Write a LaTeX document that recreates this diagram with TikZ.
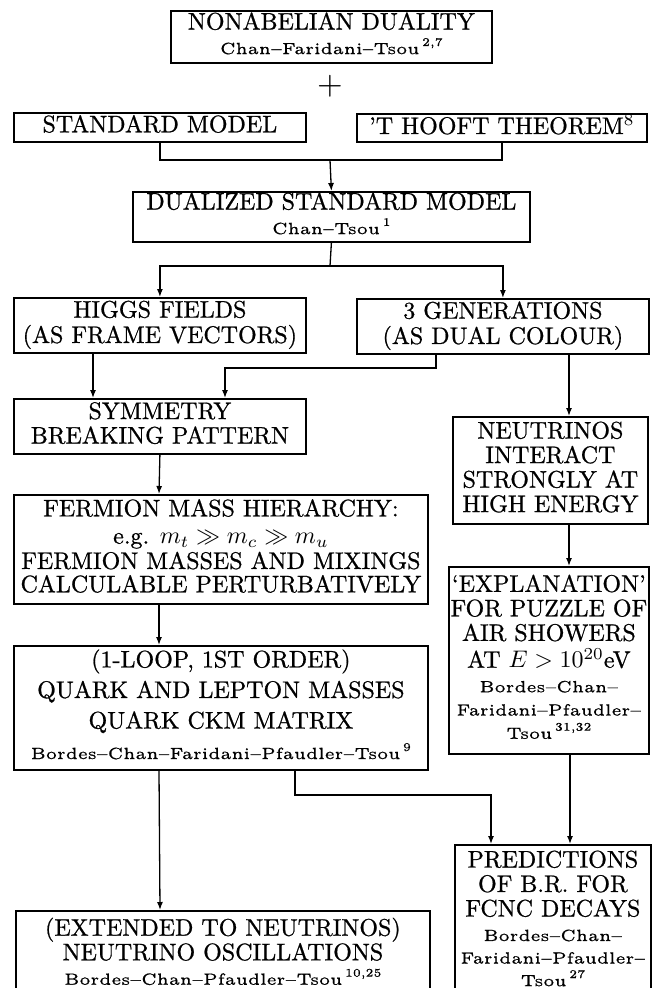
\documentclass[tikz,border=0pt]{standalone}
\usetikzlibrary{arrows.meta}
\DeclareFontFamily{TU}{lmrh}{}
\DeclareFontShape{TU}{lmrh}{m}{n}{<-5.5> "[lmroman5-regular]:mapping=tex-text;embolden=0.8" <5.5-> "[lmroman10-regular]:mapping=tex-text;embolden=0.8"}{}
\newcommand\heavy{\fontfamily{lmrh}\selectfont}
\newcommand\auth[1]{\scalebox{1.35}{\fontsize{5}{5}\selectfont #1}}
\newcommand\authsup[1]{\,\raisebox{0.5em}{\fontsize{3.6}{4}\selectfont #1}}
\newcommand\bt[1]{\scalebox{2.4}{\heavy\fontsize{10}{10.2}\selectfont\begin{tabular}{@{}c@{}}#1\end{tabular}}}
\tikzset{
  box/.style={draw, line width=1.8pt, inner sep=0pt, anchor=north west},
  conn/.style={line width=1.3pt},
  arr/.style={conn, -{Latex[length=8pt,width=6pt]}}
}
\newcommand\bx[6]{\node[box, minimum width={#4-#2}, minimum height={#5-#3}] (#1) at (#2,#3) {\bt{#6}};}
\begin{document}
\begin{tikzpicture}[x=1pt,y=-1pt]
\useasboundingbox (0,0) rectangle (653,988);
\fill[white] (0,0) rectangle (653,988);
\clip (0,0) rectangle (653,988);

\bx{nad}{170}{10}{491}{62}{NONABELIAN DUALITY\\ \auth{Chan--Faridani--Tsou\authsup{2,7}}}
\node (plus) at (330,86) {\scalebox{3.3}{$+$}};
\bx{sm}{13}{112}{305}{141}{STANDARD MODEL}
\bx{th}{356}{113}{646}{141}{'T HOOFT THEOREM$^{8}$}
\bx{dsm}{132}{191}{529}{241}{DUALIZED STANDARD MODEL\\ \auth{Chan--Tsou\authsup{1}}}
\bx{higgs}{13}{297}{305}{352}{HIGGS FIELDS\\ (AS FRAME VECTORS)}
\bx{gen}{356}{298}{648}{353}{3 GENERATIONS\\ (AS DUAL COLOUR)}
\bx{sym}{13}{398}{305}{453}{SYMMETRY\\ BREAKING PATTERN}
\bx{neu}{452}{416}{647}{523}{NEUTRINOS\\ INTERACT\\ STRONGLY AT\\ HIGH ENERGY}
\bx{ferm}{13}{494}{427}{603}{FERMION MASS HIERARCHY:\\[1.2pt] e.g. $m_t \gg m_c \gg m_u$\\[0.3pt] FERMION MASSES AND MIXINGS\\[-0.5pt] CALCULABLE PERTURBATIVELY}
\bx{expl}{448}{566}{648}{753}{`EXPLANATION'\\ FOR PUZZLE OF\\ AIR SHOWERS\\ AT $E > 10^{20}$eV\\ \auth{Bordes--Chan--}\\[-0.5pt] \auth{Faridani--Pfaudler--}\\[-0.5pt] \auth{Tsou\authsup{31,32}}}
\bx{quark}{13}{645}{427}{769}{(1-LOOP, 1ST ORDER)\\[2.5pt] QUARK AND LEPTON MASSES\\[2.5pt] QUARK CKM MATRIX\\[2.5pt] \auth{Bordes--Chan--Faridani--Pfaudler--Tsou\authsup{9}}}
\bx{pred}{454}{844}{650}{998}{PREDICTIONS\\ OF B.R. FOR\\ FCNC DECAYS\\ \auth{Bordes--Chan--}\\[-0.8pt] \auth{Faridani--Pfaudler--}\\[-0.8pt] \auth{Tsou\authsup{27}}}
\bx{osc}{15}{910}{429}{998}{(EXTENDED TO NEUTRINOS)\\ NEUTRINO OSCILLATIONS\\ \auth{Bordes--Chan--Pfaudler--Tsou\authsup{10,25}}}

\coordinate (j1) at (330,160);
\draw[conn] (sm.south) |- (j1) -| (th.south);
\draw[arr] (j1) -- (dsm.north);
\coordinate (j2) at (330,266);
\draw[conn] (dsm.south) -- (j2);
\draw[arr] (j2) -| (higgs.north);
\draw[arr] (j2) -| (gen.north);
\draw[arr] ([xshift=80pt]higgs.south west) -- ([xshift=80pt]sym.north west);
\draw[arr] ([xshift=80pt]gen.south west) |- ([xshift=212pt,yshift=30pt]sym.north west) -- ([xshift=212pt]sym.north west);
\draw[arr] ([xshift=213pt]gen.south west) -- ([xshift=117pt]neu.north west);
\draw[arr] ([xshift=117pt]neu.south west) -- ([xshift=121pt]expl.north west);
\draw[arr] (sym.south) -- ([xshift=146pt]ferm.north west);
\draw[arr] ([xshift=146pt]ferm.south west) -- ([xshift=146pt]quark.north west);
\draw[arr] ([xshift=146pt]quark.south west) -- ([xshift=145pt]osc.north west);
\draw[arr] ([xshift=282pt]quark.south west) |- ([xshift=37pt,yshift=49pt]pred.north west) -- ([xshift=37pt]pred.north west);
\draw[arr] ([xshift=122pt]expl.south west) -- ([xshift=116pt]pred.north west);
\end{tikzpicture}
\end{document}
